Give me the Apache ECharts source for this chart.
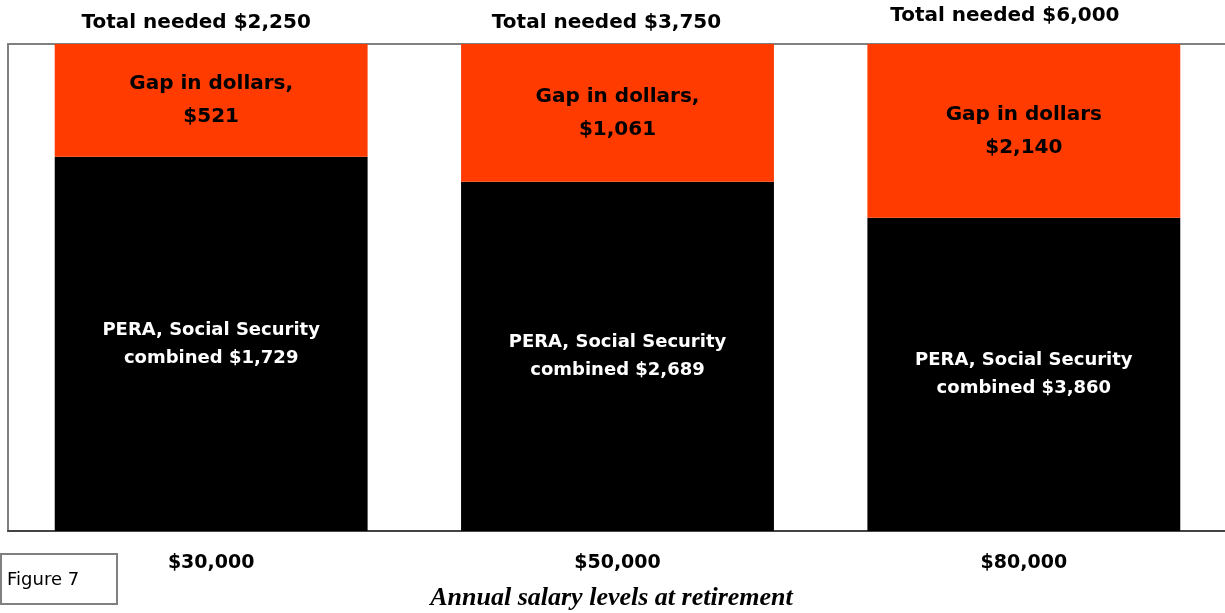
<!DOCTYPE html>
<html>
<head>
<meta charset="utf-8">
<script src="https://cdn.jsdelivr.net/npm/echarts@6/dist/echarts.min.js"></script>
<style>
html,body{margin:0;padding:0;background:#fff;}
#chart{width:1225px;height:613px;}
</style>
</head>
<body>
<div id="chart"></div>
<script>
var categories = ['$30,000', '$50,000', '$80,000'];
var peraValues = [1729, 2689, 3860];
var gapValues = [521, 1061, 2140];
var totalValues = [2250, 3750, 6000];
var gapNames = ['Gap in dollars,', 'Gap in dollars,', 'Gap in dollars'];
var peraName = 'PERA, Social Security';
var axisTitle = 'Annual salary levels at retirement';

function money(v) { return '$' + v.toLocaleString('en-US'); }
function pct(arr) { return arr.map(function (v, i) { return v / totalValues[i] * 100; }); }

var FONT = 'DejaVu Sans';
var totStyle = { color: '#000', fontFamily: FONT, fontWeight: 'bold', fontSize: 20 };
var chart = echarts.init(document.getElementById('chart'));
chart.setOption({
  animation: false,
  grid: { left: 8, right: -2, top: 44, bottom: 82, outerBoundsMode: 'none', containLabel: false, show: true, borderColor: '#808080', borderWidth: 2, backgroundColor: '#fff' },
  xAxis: [{
    type: 'category', data: categories, position: 'bottom',
    axisLine: { lineStyle: { color: '#444', width: 2 } },
    axisTick: { show: false },
    axisLabel: { margin: 23, color: '#000', fontFamily: FONT, fontWeight: 'bold', fontSize: 19 },
    name: axisTitle, nameLocation: 'middle', nameGap: 54,
    nameTextStyle: { fontFamily: 'Liberation Serif', fontStyle: 'italic', fontWeight: 'bold', fontSize: 26, color: '#000', padding: [0, 12, 0, 0] }
  }, {
    type: 'category', data: totalValues, position: 'top',
    axisLine: { show: false }, axisTick: { show: false },
    axisLabel: {
      margin: 11,
      formatter: function (v, i) { return '{t' + i + '|Total needed ' + money(Number(v)) + '}'; },
      rich: {
        t0: Object.assign({ padding: [0, 30, 0, 0] }, totStyle),
        t1: Object.assign({ padding: [0, 22, 0, 0] }, totStyle),
        t2: Object.assign({ padding: [0, 38, 7, 0] }, totStyle)
      }
    }
  }],
  yAxis: { type: 'value', min: 0, max: 100, show: false, splitLine: { show: false } },
  series: [{
    type: 'bar', stack: 't', barWidth: '77%', xAxisIndex: 0,
    data: pct(peraValues),
    itemStyle: { color: '#000' },
    label: {
      show: true, position: 'inside', color: '#fff', fontFamily: FONT, fontWeight: 'bold', fontSize: 18, lineHeight: 28,
      formatter: function (p) { return peraName + '\ncombined ' + money(peraValues[p.dataIndex]); }
    }
  }, {
    type: 'bar', stack: 't', barWidth: '77%', xAxisIndex: 0,
    data: pct(gapValues),
    itemStyle: { color: '#ff3b00' },
    label: {
      show: true, position: 'inside', color: '#000', fontFamily: FONT, fontWeight: 'bold', fontSize: 20, lineHeight: 33,
      formatter: function (p) { return gapNames[p.dataIndex] + '\n' + money(gapValues[p.dataIndex]); }
    }
  }],
  graphic: [{
    type: 'rect', left: 0, top: 553, shape: { width: 116, height: 50 },
    style: { fill: '#fff', stroke: '#808080', lineWidth: 2 }
  }, {
    type: 'text', left: 7, top: 571,
    style: { text: 'Figure 7', fontFamily: FONT, fontSize: 18, fill: '#000' }
  }]
});
</script>
</body>
</html>
